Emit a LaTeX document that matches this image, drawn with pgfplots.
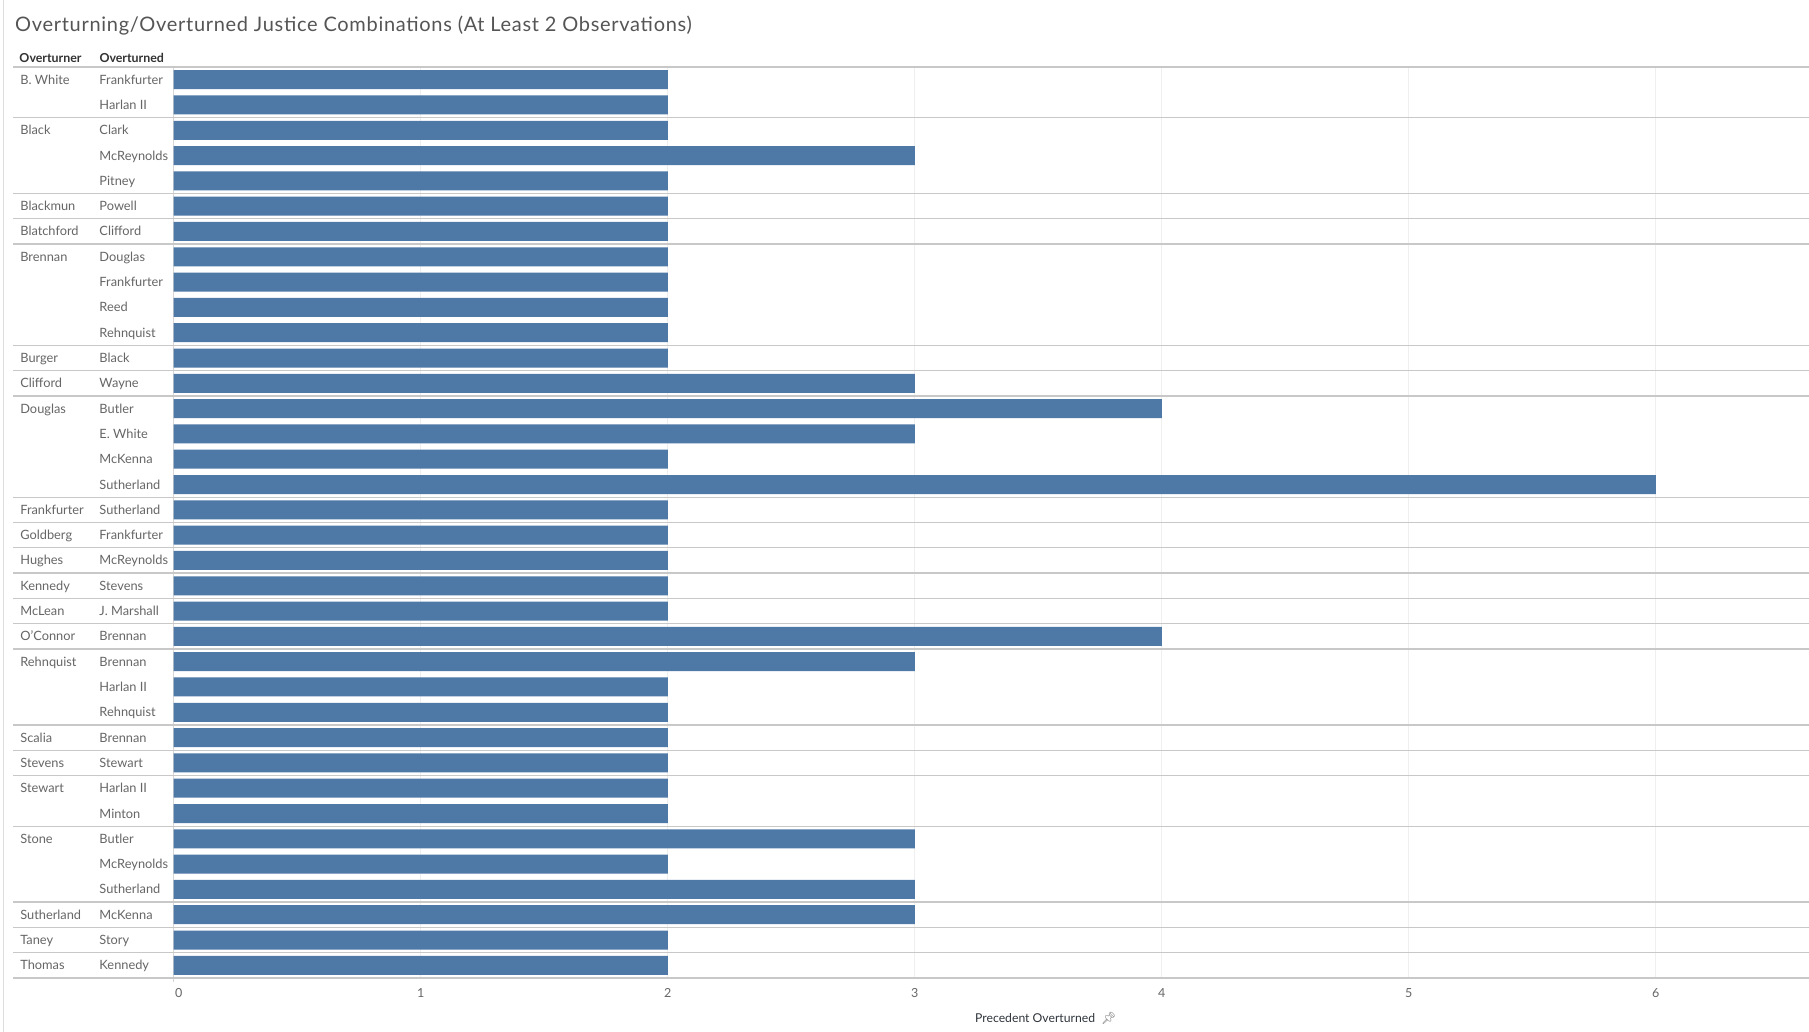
\documentclass[border=0pt]{standalone}
\usepackage{fontspec}
\setmainfont{Lato}
\newfontfamily\emojifont{Noto Emoji}
\usepackage{pgfplots}
\pgfplotsset{compat=1.18}
\definecolor{barc}{HTML}{4E79A7}
\definecolor{gridc}{HTML}{EFEFEF}
\definecolor{sepc}{HTML}{C8C8C8}
\definecolor{zeroc}{HTML}{D6D6D6}
\definecolor{labc}{HTML}{666666}
\definecolor{hdrc}{HTML}{333333}
\definecolor{titc}{HTML}{555555}
\definecolor{axtc}{HTML}{2F353C}
\definecolor{bordc}{HTML}{DDDDDD}
\tikzset{ow/.style={anchor=base west, inner sep=0pt, yshift=-4.5pt, font=\fontsize{12.8}{15}\selectfont, text=labc}}
\begin{document}
\begin{tikzpicture}[x=1pt,y=1pt]
\fill[white] (0,0) rectangle (1809,1033);
\draw[bordc, line width=1pt] (3.3,0) -- (3.3,1033);
\node[anchor=base west, inner sep=0, font=\fontsize{20}{22}\selectfont\addfontfeatures{LetterSpace=3.5}, text=titc] at (15,1001) {Overturning/Overturned Justice Combinations (At Least 2 Observations)};
\node[anchor=base west, inner sep=0, font=\fontsize{12.4}{14}\selectfont\bfseries, text=hdrc] at (19.3,970.7) {Overturner};
\node[anchor=base west, inner sep=0, font=\fontsize{12.4}{14}\selectfont\bfseries, text=hdrc] at (99.3,970.7) {Overturned};
\begin{axis}[
  at={(173.7pt,55pt)}, anchor=south west, scale only axis,
  width=1635.3pt, height=911pt,
  xmin=0, xmax=6.62, ymin=-0.5, ymax=35.5, y dir=reverse,
  xbar, bar width=19pt, clip=false,
  axis line style={draw=none}, major tick length=0pt,
  /pgf/number format/assume math mode=true,
  xtick={0,1,2,3,4,5,6}, xticklabels={\hspace{10pt}0,1,2,3,4,5,6},
  ytick={0,1,...,35},
  xmajorgrids, grid style={gridc, line width=1pt},
  xticklabel style={anchor=base, yshift=-19.5pt, inner sep=0pt, font=\fontsize{12.5}{14}\selectfont, text=labc},
  yticklabel style={anchor=base west, inner sep=0pt, xshift=-74.4pt, yshift=-4.5pt, font=\fontsize{12.8}{15}\selectfont, text=labc},
  yticklabels={Frankfurter, Harlan II, Clark, McReynolds, Pitney, Powell, Clifford, Douglas, Frankfurter, Reed, Rehnquist, Black, Wayne, Butler, E. White, McKenna, Sutherland, Sutherland, Frankfurter, McReynolds, Stevens, J. Marshall, Brennan, Brennan, Harlan II, Rehnquist, Brennan, Stewart, Harlan II, Minton, Butler, McReynolds, Sutherland, McKenna, Story, Kennedy},
]
\draw[zeroc, line width=1pt] (axis cs:0,-0.5) -- ([yshift=-4pt]axis cs:0,35.5);
\addplot[fill=barc, draw=none] coordinates {
(2,0) (2,1) (2,2) (3,3) (2,4) (2,5) (2,6) (2,7) (2,8) (2,9) (2,10) (2,11)
(3,12) (4,13) (3,14) (2,15) (6,16) (2,17) (2,18) (2,19) (2,20) (2,21)
(4,22) (3,23) (2,24) (2,25) (2,26) (2,27) (2,28) (2,29) (3,30) (2,31)
(3,32) (3,33) (2,34) (2,35)};
\pgfplotsinvokeforeach{-0.5,1.5,4.5,5.5,6.5,10.5,11.5,12.5,16.5,17.5,18.5,19.5,20.5,21.5,22.5,25.5,26.5,27.5,29.5,32.5,33.5,34.5,35.5}{
  \draw[sepc, line width=1.3pt] (axis cs:-0.6494,#1) -- (axis cs:6.62,#1);
}
\node[ow] at (axis cs:-0.6216,0) {B. White};
\node[ow] at (axis cs:-0.6216,2) {Black};
\node[ow] at (axis cs:-0.6216,5) {Blackmun};
\node[ow] at (axis cs:-0.6216,6) {Blatchford};
\node[ow] at (axis cs:-0.6216,7) {Brennan};
\node[ow] at (axis cs:-0.6216,11) {Burger};
\node[ow] at (axis cs:-0.6216,12) {Clifford};
\node[ow] at (axis cs:-0.6216,13) {Douglas};
\node[ow] at (axis cs:-0.6216,17) {Frankfurter};
\node[ow] at (axis cs:-0.6216,18) {Goldberg};
\node[ow] at (axis cs:-0.6216,19) {Hughes};
\node[ow] at (axis cs:-0.6216,20) {Kennedy};
\node[ow] at (axis cs:-0.6216,21) {McLean};
\node[ow] at (axis cs:-0.6216,22) {O'Connor};
\node[ow] at (axis cs:-0.6216,23) {Rehnquist};
\node[ow] at (axis cs:-0.6216,26) {Scalia};
\node[ow] at (axis cs:-0.6216,27) {Stevens};
\node[ow] at (axis cs:-0.6216,28) {Stewart};
\node[ow] at (axis cs:-0.6216,30) {Stone};
\node[ow] at (axis cs:-0.6216,33) {Sutherland};
\node[ow] at (axis cs:-0.6216,34) {Taney};
\node[ow] at (axis cs:-0.6216,35) {Thomas};
\end{axis}
\node[anchor=base west, inner sep=0, font=\fontsize{12.2}{14}\selectfont, text=axtc] at (975,10.3) {Precedent Overturned\hspace{6pt}{\emojifont\color{black!55}\fontsize{12}{13}\selectfont 📌}};
\pgfresetboundingbox
\useasboundingbox (0,2) rectangle (1809,1033);
\end{tikzpicture}
\end{document}
